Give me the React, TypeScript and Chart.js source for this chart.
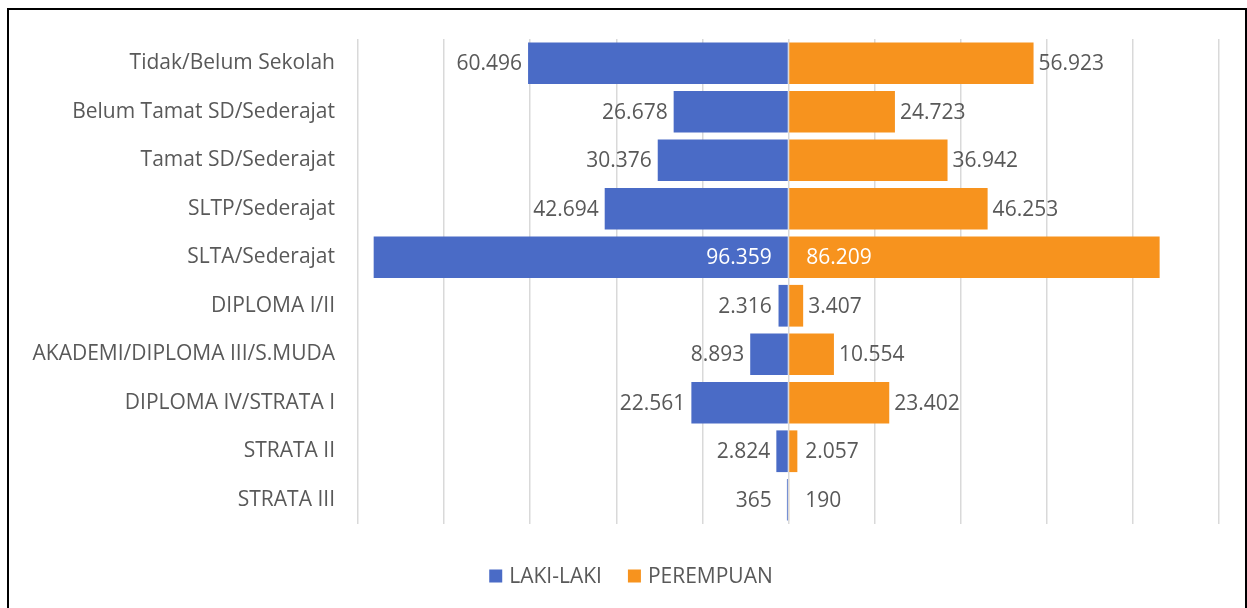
import React, { useEffect, useRef } from "react";
import { Chart, registerables } from "chart.js";

Chart.register(...registerables);

const categories = [
  "Tidak/Belum Sekolah",
  "Belum Tamat SD/Sederajat",
  "Tamat SD/Sederajat",
  "SLTP/Sederajat",
  "SLTA/Sederajat",
  "DIPLOMA I/II",
  "AKADEMI/DIPLOMA III/S.MUDA",
  "DIPLOMA IV/STRATA I",
  "STRATA II",
  "STRATA III",
];
const lakiLaki = [60496, 26678, 30376, 42694, 96359, 2316, 8893, 22561, 2824, 365];
const perempuan = [56923, 24723, 36942, 46253, 86209, 3407, 10554, 23402, 2057, 190];
const seriesNames = ["LAKI-LAKI", "PEREMPUAN"];

const BLUE = "#4A6BC6";
const ORANGE = "#F7931E";
const TEXT = "#595959";
const FONT = "'Open Sans', sans-serif";
const FONT_SIZE = 21;

const fmt = (v: number) => String(Math.abs(v)).replace(/\B(?=(\d{3})+(?!\d))/g, ".");

const labelPlugin = {
  id: "barLabels",
  afterDatasetsDraw(chart: any) {
    const ctx = chart.ctx;
    const area = chart.chartArea;
    ctx.save();
    ctx.font = `${FONT_SIZE}px ${FONT}`;
    ctx.textBaseline = "middle";
    chart.data.datasets.forEach((ds: any, di: number) => {
      const meta = chart.getDatasetMeta(di);
      meta.data.forEach((el: any, i: number) => {
        const v = ds.data[i];
        const text = fmt(v);
        const w = ctx.measureText(text).width;
        const base = el.base;
        const y = el.y + 1;
        if (v < 0) {
          let xr = Math.min(el.x - 6, base - 16);
          if (xr - w < area.left) {
            ctx.fillStyle = "#ffffff";
            xr = base - 16;
          } else {
            ctx.fillStyle = TEXT;
          }
          ctx.textAlign = "right";
          ctx.fillText(text, xr, y);
        } else {
          let xl = Math.max(el.x + 5, base + 16);
          if (xl + w > area.right) {
            ctx.fillStyle = "#ffffff";
            xl = base + 17;
          } else {
            ctx.fillStyle = TEXT;
          }
          ctx.textAlign = "left";
          ctx.fillText(text, xl, y);
        }
      });
    });
    ctx.restore();
  },
};

const legendPlugin = {
  id: "customLegend",
  afterDraw(chart: any) {
    const ctx = chart.ctx;
    ctx.save();
    ctx.font = `${FONT_SIZE}px ${FONT}`;
    ctx.textBaseline = "middle";
    ctx.textAlign = "left";
    const box = 13;
    const gapText = 7;
    const gapItem = 26;
    const items = chart.data.datasets.map((ds: any) => ({
      label: ds.label,
      color: ds.backgroundColor,
      w: box + gapText + ctx.measureText(ds.label).width,
    }));
    const total = items.reduce((s: number, it: any) => s + it.w, 0) + gapItem * (items.length - 1);
    let x = chart.width / 2 + 4 - total / 2;
    const cy = chart.chartArea.bottom + 52;
    items.forEach((it: any) => {
      ctx.fillStyle = it.color;
      ctx.fillRect(x, cy - box / 2, box, box);
      ctx.fillStyle = TEXT;
      ctx.fillText(it.label, x + box + gapText, cy + 1);
      x += it.w + gapItem;
    });
    ctx.restore();
  },
};

export default function App() {
  const ref = useRef<HTMLCanvasElement>(null);
  useEffect(() => {
    if (!ref.current) return;
    Chart.defaults.font.family = FONT;
    const chart = new Chart(ref.current, {
      type: "bar",
      data: {
        labels: categories,
        datasets: [
          {
            label: seriesNames[0],
            data: lakiLaki.map((v) => -v),
            backgroundColor: BLUE,
            barPercentage: 0.86,
            categoryPercentage: 1,
          },
          {
            label: seriesNames[1],
            data: perempuan,
            backgroundColor: ORANGE,
            barPercentage: 0.86,
            categoryPercentage: 1,
          },
        ],
      },
      options: {
        indexAxis: "y",
        responsive: false,
        animation: false,
        maintainAspectRatio: false,
        layout: { padding: { left: 0, right: 26, top: 29, bottom: 0 } },
        scales: {
          x: {
            stacked: true,
            min: -100000,
            max: 100000,
            ticks: { display: false, stepSize: 20000 },
            grid: { color: "#d9d9d9", lineWidth: 1.5, drawTicks: false },
            border: { display: false },
            afterFit: (scale: any) => {
              scale.height = 86;
              scale.paddingLeft = 0;
              scale.paddingRight = 0;
            },
          },
          y: {
            stacked: true,
            grid: { display: false, drawTicks: false },
            border: { display: false },
            ticks: {
              color: TEXT,
              padding: 23,
              font: { size: FONT_SIZE, family: FONT },
            },
            afterFit: (scale: any) => {
              scale.width = 349;
              scale.paddingTop = 0;
              scale.paddingBottom = 0;
            },
          },
        },
        plugins: {
          legend: { display: false },
          tooltip: { enabled: false },
        },
      },
      plugins: [labelPlugin, legendPlugin],
    });
    return () => chart.destroy();
  }, []);
  return (
    <div
      style={{
        position: "absolute",
        left: 7,
        top: 8,
        width: 1240,
        height: 604,
        border: "2px solid #000",
        boxSizing: "border-box",
        background: "#fff",
      }}
    >
      <canvas ref={ref} width={1236} height={600} style={{ display: "block" }} />
    </div>
  );
}
